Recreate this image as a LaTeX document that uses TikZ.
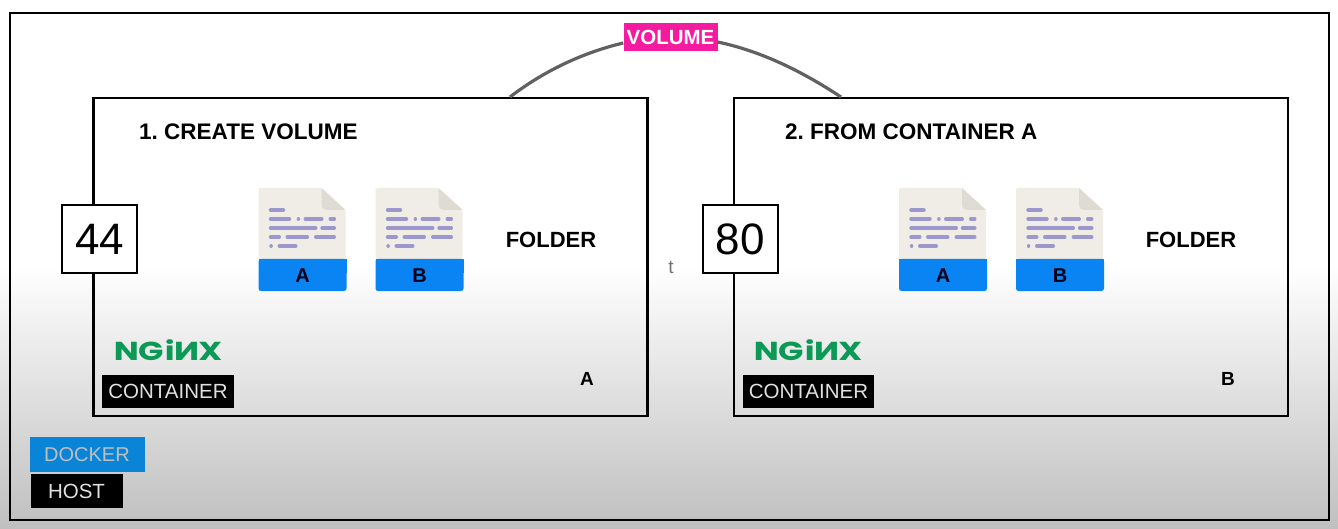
\documentclass[tikz,border=0pt]{standalone}
\usepackage{fontspec}
\setmainfont{Liberation Sans}
\newfontfamily\logofont{Poppins}
\usetikzlibrary{calc}
\definecolor{paper}{HTML}{EFEDE6}
\definecolor{fold}{HTML}{DEDCD2}
\definecolor{bar}{HTML}{0A84F2}
\definecolor{lines}{HTML}{9C98CE}
\definecolor{ngx}{HTML}{0B9A56}
\definecolor{dockerb}{HTML}{0A84D6}
\definecolor{pinkv}{HTML}{F41BA0}
\tikzset{
  x=1pt,y=-1pt,
  frame/.style={draw=black,line width=2.8pt,fill=none},
  title/.style={font=\frenchspacing\bfseries\fontsize{22.5}{26}\selectfont,anchor=west,inner sep=0pt},
  lab/.style={font=\bfseries\fontsize{19}{23}\selectfont,inner sep=0pt},
  port/.style={draw=black,line width=2pt,fill=white,minimum width=75pt,minimum height=68pt,inner sep=0pt,font=\fontsize{44}{50}\selectfont},
  blk/.style={fill=black,text=white!88!black,inner sep=0pt,font=\fontsize{20.5}{24}\selectfont},
  arc/.style={draw=black!62,line width=3.2pt},
  doc line/.style={draw=lines,line width=3.4pt,line cap=round},
}
% #1 origin x, #2 letter
\newcommand{\docicon}[2]{%
 \begin{scope}[shift={(#1,188)}]
  \fill[paper,rounded corners=1.5pt] (0,0) -- (63,0) -- (87,22) -- (87,75) -- (0,75) -- cycle;
  \fill[fold] (63,0) -- (87,22) -- (69,22) .. controls (65,22) and (63,20) .. (63,16) -- cycle;
  \fill[bar,rounded corners=2.5pt] (0,71) rectangle (88,103);
  \fill[bar] (0,71) rectangle (88,85);
  \draw[doc line] (12,22) -- (25,22);
  \draw[doc line] (12,31) -- (31,31) (39.8,31) -- (40,31) (46.7,31) -- (63.3,31) (71.7,31) -- (75.8,31);
  \draw[doc line] (12,40) -- (57.3,40) (63.5,40) -- (75.8,40);
  \draw[doc line] (12,49) -- (20.8,49) (28.7,49) -- (48.8,49) (57.2,49) -- (75.8,49);
  \draw[doc line] (12.5,58) -- (12.7,58) (20.7,58) -- (37.3,58);
  \node[font=\bfseries\fontsize{20}{24}\selectfont,text=black!90!blue,inner sep=0pt] at (44,87.5) {#2};
 \end{scope}}
\newcommand{\ngxlogo}[1]{%
 \node[text=ngx,inner sep=0pt,font=\logofont\bfseries\fontsize{26}{30}\selectfont] (#1) {\scalebox{1.28}[1]{N\kern-0.5pt G\kern1pt i\kern-0.5pt \reflectbox{N}\kern-0.5pt X}};}
\begin{document}
\begin{tikzpicture}
\useasboundingbox (0,0) rectangle (1338,529);
\fill[white] (0,0) rectangle (1338,265);
\shade[top color=white,bottom color=black!25] (0,265) rectangle (1338,529);
\node[frame,minimum width=1319pt,minimum height=507pt,inner sep=0pt] (host) at (669.5,266.5) {};
\node[frame,minimum width=554pt,minimum height=318pt,inner sep=0pt] (boxa) at (370.5,257) {};
\node[frame,minimum width=554pt,minimum height=318pt,inner sep=0pt] (boxb) at (1011,257) {};
\node[fill=pinkv,text=white,inner sep=0pt,minimum width=94pt,minimum height=28pt,font=\bfseries\fontsize{20.5}{24}\selectfont] (vol) at (670.5,37.5) {VOLUME};
\coordinate (arcl) at (510,97);
\coordinate (arcr) at (841,97);
\draw[arc] (arcl) .. controls (545,70) and (585,52) .. (vol.west |- 0,43);
\draw[arc] (vol.east |- 0,42) .. controls (760,51) and (800,70) .. (arcr);
\node[title] (ta) at (139,132) {1. CREATE VOLUME};
\node[title] (tb) at (785,132) {2. FROM CONTAINER A};
\node[port] (pa) at (99.5,239.5) {44};
\node[port] (pb) at (740,239.5) {80};
\docicon{258.5}{A}
\docicon{375.5}{B}
\docicon{899}{A}
\docicon{1016}{B}
\node[lab,font=\bfseries\fontsize{22}{26}\selectfont] (fa) at (551,240) {FOLDER};
\node[lab,font=\bfseries\fontsize{22}{26}\selectfont] (fb) at (1191,240) {FOLDER};
\node[lab] (la) at (587,379) {A};
\node[lab] (lb) at (1228,379) {B};
\node[text=black!55,inner sep=0pt,font=\fontsize{19}{23}\selectfont] (t) at (671,267) {t};
\begin{scope}[shift={(168,350)}]\ngxlogo{na}\end{scope}
\begin{scope}[shift={(808,350)}]\ngxlogo{nb}\end{scope}
\node[blk,minimum width=132pt,minimum height=33pt] (ca) at (168,391.5) {CONTAINER};
\node[blk,minimum width=131pt,minimum height=33pt] (cb) at (808.5,391.5) {CONTAINER};
\node[fill=dockerb,text=white!75!black,inner sep=0pt,minimum width=115pt,minimum height=35pt,font=\fontsize{20}{24}\selectfont] (dk) at (87,454.5) {DOCKER};
\node[blk,minimum width=92pt,minimum height=34pt] (hs) at (76.5,491) {HOST};
\end{tikzpicture}
\end{document}
